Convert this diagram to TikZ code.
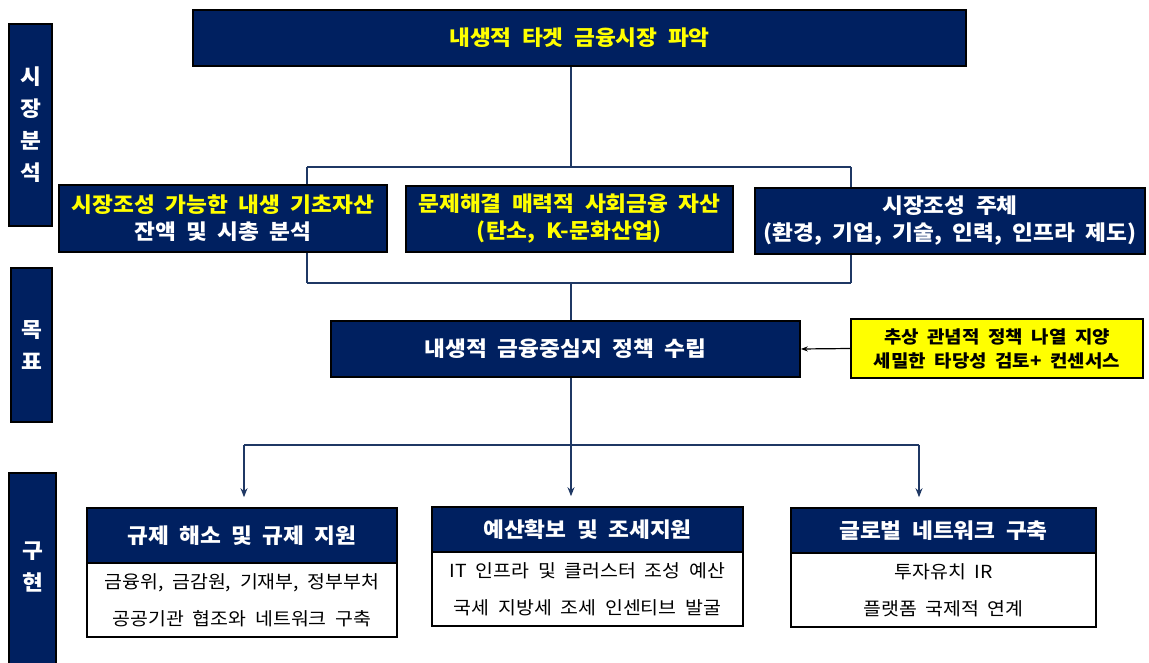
\documentclass[tikz,border=0pt]{standalone}
\usepackage{fontspec}
\setmainfont{Noto Sans CJK KR}[FakeStretch=1.08, WordSpace=2]
\usetikzlibrary{arrows.meta}
\definecolor{navy}{HTML}{002060}
\definecolor{conn}{HTML}{1F3864}
\definecolor{ylw}{HTML}{FFFF00}
\tikzset{
  navybox/.style={draw=black, line width=1.6pt, fill=navy, inner sep=0pt, text=white, align=center,
    font=\bfseries\fontsize{21}{27}\selectfont},
  sidebar/.style={navybox, font=\bfseries\fontsize{21}{32}\selectfont},
  ybox/.style={draw=black, line width=1.4pt, fill=ylw, inner sep=0pt, text=black, align=center,
    font=\bfseries\fontsize{17.5}{24}\selectfont},
  headbox/.style={navybox, font=\bfseries\fontsize{21}{26}\selectfont},
  bodybox/.style={draw=black, line width=1.6pt, fill=white, inner sep=0pt, text=black, align=center,
    font=\fontsize{18}{37}\selectfont},
  cl/.style={draw=conn, line width=1.6pt},
  arr/.style={cl, -{Stealth[length=9pt,width=7pt]}, shorten >=10pt}
}
\begin{document}
\begin{tikzpicture}[x=1pt,y=-1pt]
\useasboundingbox (0,0) rectangle (1149,663);
\clip (0,0) rectangle (1149,663);
% side bars
\node[sidebar, minimum width=43, minimum height=202] (s1) at (30.5,125) {시\\장\\분\\석};
\node[sidebar, minimum width=41, minimum height=154] (s2) at (31.5,345) {목\\표};
\node[sidebar, minimum width=47, minimum height=220] (s3) at (32.5,583) {};
\node[font=\bfseries\fontsize{21}{32}\selectfont, text=white, align=center] (s3t) at (32.5,567) {구\\현};
% top box
\node[navybox, minimum width=773, minimum height=56] (top) at (579.5,38) {\color{ylw}내생적 타겟 금융시장 파악};
% second row
\node[navybox, minimum width=328, minimum height=67] (b1) at (223,218.5) {\color{ylw}시장조성 가능한 내생 기초자산\\잔액 및 시총 분석};
\node[navybox, minimum width=327, minimum height=66] (b2) at (569.5,219) {\color{ylw}문제해결 매력적 사회금융 자산\\\color{ylw}(탄소, K-문화산업)};
\node[navybox, minimum width=390, minimum height=66] (b3) at (950,221) {시장조성 주체\\(환경, 기업, 기술, 인력, 인프라 제도)};
% policy
\node[navybox, minimum width=469, minimum height=56] (pol) at (565.5,349) {내생적 금융중심지 정책 수립};
\node[ybox, minimum width=292, minimum height=59] (yb) at (997,348.5) {추상 관념적 정책 나열 지양\\세밀한 타당성 검토+ 컨센서스};
% lower boxes
\node[bodybox, minimum width=310, minimum height=74] (d1) at (242,600) {금융위, 금감원, 기재부, 정부부처\\공공기관 협조와 네트워크 구축};
\node[headbox, minimum width=310, minimum height=55] (h1) at (242,535.5) {규제 해소 및 규제 지원};
\node[bodybox, minimum width=311, minimum height=74] (d2) at (587.5,589) {IT 인프라 및 클러스터 조성 예산\\국세 지방세 조세 인센티브 발굴};
\node[headbox, minimum width=311, minimum height=45] (h2) at (587.5,529.5) {예산확보 및 조세지원};
\node[bodybox, minimum width=305, minimum height=74] (d3) at (943.5,590) {투자유치 IR\\플랫폼 국제적 연계};
\node[headbox, minimum width=305, minimum height=45] (h3) at (943.5,530.5) {글로벌 네트워크 구축};
% junction coordinates
\coordinate (j1) at (571,167);
\coordinate (jl) at (307,167);
\coordinate (jr) at (851,167);
\coordinate (kl) at (307,283);
\coordinate (kr) at (851,283);
\coordinate (k) at (571,283);
\coordinate (m) at (571,445);
\coordinate (ml) at (244,445);
\coordinate (mr) at (919,445);
% connectors
\draw[cl] (top.south -| j1) -- (j1);
\draw[cl] (jl) -- (jr);
\draw[cl] (jl) -- (jl |- b1.north);
\draw[cl] (jr) -- (jr |- b3.north);
\draw[cl] (b1.south -| kl) -- (kl);
\draw[cl] (b3.south -| kr) -- (kr);
\draw[cl] (kl) -- (kr);
\draw[cl] (k) -- (k |- pol.north);
\draw[cl] (pol.south -| m) -- (m);
\draw[cl] (ml) -- (mr);
\draw[arr] (ml) -- (ml |- h1.north);
\draw[arr] (m) -- (m |- h2.north);
\draw[arr] (mr) -- (mr |- h3.north);
\draw[black, line width=1.2pt, -{Stealth[length=7pt,width=5pt]}] (yb.west) -- (pol.east);
\end{tikzpicture}
\end{document}
